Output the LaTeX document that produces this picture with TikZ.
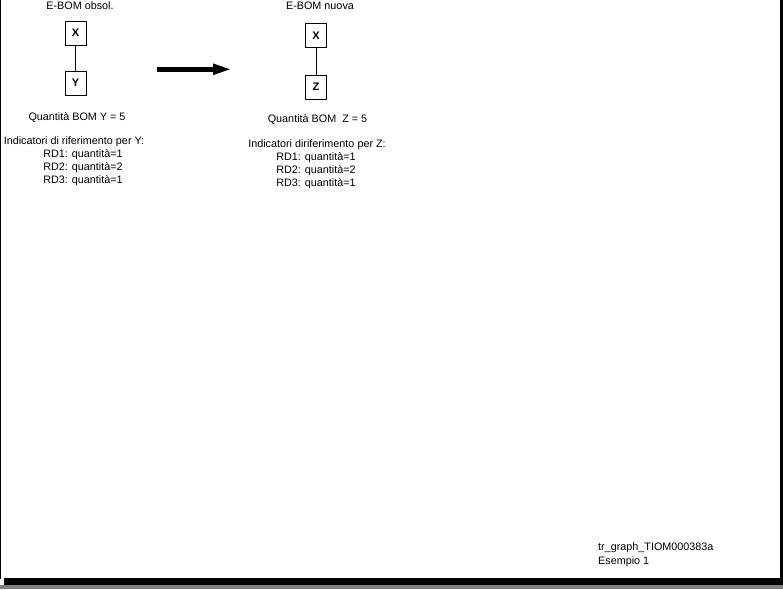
\documentclass[tikz,border=0pt]{standalone}
\usepackage{fontspec}
\setmainfont{Liberation Sans}
\usetikzlibrary{arrows.meta}
\begin{document}
\begin{tikzpicture}[x=1pt,y=-1pt,
  lbl/.style={inner sep=0pt,font=\fontsize{10.8}{13}\selectfont,align=center},
  part/.style={draw,line width=0.8pt,minimum width=21pt,minimum height=24pt,inner sep=0pt,font=\fontsize{11}{13}\selectfont\bfseries},
  link/.style={line width=0.8pt}]
\useasboundingbox (0,0) rectangle (783,589);
% frame with shadow
\fill[black!50] (0,585) rectangle (783,589);
\fill[black] (4,578) rectangle (783,585);
\fill[black] (780,0) rectangle (783,585);
\fill[black] (0,0) rectangle (1.3,579);
% left group
\node[lbl] (t1) at (80,6) {E-BOM obsol.};
\node[part] (x1) at (75.5,33) {X};
\node[part] (y1) at (75.5,83) {Y};
\draw[link] (x1) -- (y1);
\node[lbl] (q1) at (77,118) {Quantità BOM Y = 5};
\node[lbl] (i1) at (74,142) {Indicatori di riferimento per Y:};
\node[lbl] (r1) at (83,168) {RD1: quantità=1\\RD2: quantità=2\\RD3: quantità=1};
% arrow
\coordinate (a0) at (157,69.3);
\coordinate (a1) at (232,69.3);
\draw[line width=5pt,-{Triangle[length=19pt,width=10pt]}] (a0) -- (a1);
% right group
\node[lbl] (t2) at (320,6) {E-BOM nuova};
\node[part] (x2) at (316,35.5) {X};
\node[part] (z2) at (316,87) {Z};
\draw[link] (x2) -- (z2);
\node[lbl] (q2) at (317.5,119.5) {Quantità BOM\ \ Z = 5};
\node[lbl] (i2) at (317,145) {Indicatori diriferimento per Z:};
\node[lbl] (r2) at (316,171) {RD1: quantità=1\\RD2: quantità=2\\RD3: quantità=1};
% caption
\node[lbl,align=left,anchor=west] (c1) at (598,548) {tr\_graph\_TIOM000383a};
\node[lbl,align=left,anchor=west] (c2) at (598,562) {Esempio 1};
\end{tikzpicture}
\end{document}
